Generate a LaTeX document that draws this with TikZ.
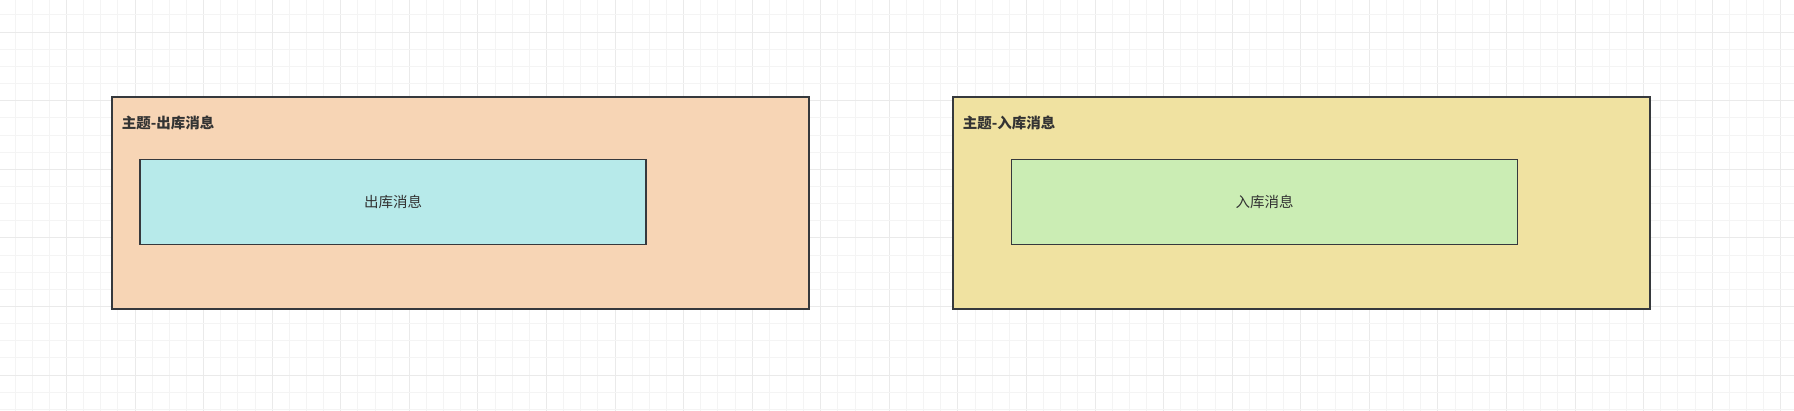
\documentclass[tikz,border=0pt]{standalone}
\usepackage{fontspec}
\setmainfont{Noto Sans CJK SC}
\usetikzlibrary{positioning}
\definecolor{GridMinor}{RGB}{244,244,244}
\definecolor{GridMajor}{RGB}{234,234,234}
\definecolor{LineColor}{RGB}{54,57,61}
\definecolor{TextColor}{RGB}{51,51,51}
\definecolor{OutTopic}{RGB}{247,213,181}
\definecolor{InTopic}{RGB}{240,226,161}
\definecolor{OutMsg}{RGB}{183,234,234}
\definecolor{InMsg}{RGB}{203,237,180}
\tikzset{
  minor grid/.style={GridMinor, line width=1pt},
  major grid/.style={GridMajor, line width=1pt},
  topic/.style={draw=LineColor, line width=1.4pt, fill=#1, rectangle, inner sep=0pt, outer sep=0pt,
    minimum width=697pt, minimum height=212pt, anchor=north west},
  message/.style={draw=LineColor, line width=1.4pt, fill=#1, rectangle, inner sep=0pt, outer sep=0pt,
    minimum width=506pt, minimum height=85pt, text=TextColor, font=\fontsize{14.5}{17}\selectfont},
  topic title/.style={anchor=west, inner sep=0pt, text=TextColor, font=\fontsize{14.5}{17}\selectfont\bfseries}
}

\begin{document}
\begin{tikzpicture}[x=1pt, y=-1pt]
  \useasboundingbox (0,0) rectangle (1794,411);
  % Background grid
  \foreach \i in {0,...,105} {
    \pgfmathtruncatemacro{\m}{mod(\i,4)}
    \ifnum\m=0
      \draw[major grid] ({-2.14+17.143*\i},0) -- ++(0,411);
    \else
      \draw[minor grid] ({-2.14+17.143*\i},0) -- ++(0,411);
    \fi
  }
  \foreach \j in {0,...,25} {
    \pgfmathtruncatemacro{\m}{mod(\j,4)}
    \ifnum\m=2
      \draw[major grid] (0,{-2.14+17.143*\j}) -- ++(1794,0);
    \else
      \draw[minor grid] (0,{-2.14+17.143*\j}) -- ++(1794,0);
    \fi
  }

  % Outgoing topic
  \node[topic=OutTopic] (outTopic) at (112,97) {};
  \node[topic title] (outTitle) at ([xshift=9.7pt, yshift=-25.5pt]outTopic.north west) {主题-出库消息};
  \node[message=OutMsg, below right=62.7pt and 28pt of outTopic.north west] (outMsg) {出库消息};

  % Incoming topic
  \node[topic=InTopic] (inTopic) at (953,97) {};
  \node[topic title] (inTitle) at ([xshift=9.7pt, yshift=-25.5pt]inTopic.north west) {主题-入库消息};
  \node[message=InMsg, below right=62.7pt and 58.7pt of inTopic.north west] (inMsg) {入库消息};
\end{tikzpicture}
\end{document}
